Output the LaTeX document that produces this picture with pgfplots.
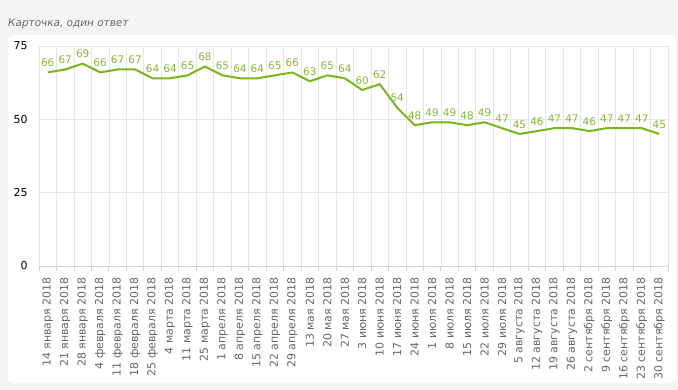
\documentclass[border=0pt]{standalone}
\usepackage{pgfplots}
\pgfplotsset{compat=1.18}
\usepackage{fontspec}
\setmainfont{DejaVu Sans}
\definecolor{bgouter}{HTML}{F4F4F4}
\definecolor{linegreen}{HTML}{7AB51D}
\definecolor{labgreen}{HTML}{86B83A}
\definecolor{gridc}{HTML}{E6E6E6}
\definecolor{axisc}{HTML}{CCD6EB}
\definecolor{ticklab}{HTML}{666666}
\definecolor{titlec}{HTML}{666666}
\pgfplotstableread{
x y
0 66
1 67
2 69
3 66
4 67
5 67
6 64
7 64
8 65
9 68
10 65
11 64
12 64
13 65
14 66
15 63
16 65
17 64
18 60
19 62
20 54
21 48
22 49
23 49
24 48
25 49
26 47
27 45
28 46
29 47
30 47
31 46
32 47
33 47
34 47
35 45
}\datatab
\begin{document}
\begin{tikzpicture}
\useasboundingbox (0,0) rectangle (678bp,-390bp);
\fill[bgouter] (0,0) rectangle (678bp,-390bp);
\fill[white, rounded corners=5bp] (8bp,-35bp) rectangle (676bp,-383bp);
\node[anchor=base west, inner sep=0pt, font=\itshape\fontsize{10.5}{12}\selectfont, text=titlec] at (8bp,-26bp) {Карточка, один ответ};
\begin{axis}[
  at={(39bp,-266bp)}, anchor=south west,
  scale only axis, width=629bp, height=220bp,
  xmin=-0.5, xmax=35.5, ymin=0, ymax=75,
  axis x line*=bottom, axis y line*=left,
  x axis line style={draw=axisc, line width=0.8pt, -},
  y axis line style={draw=none},
  xtick={0,...,35},
  xticklabels={14 января 2018,21 января 2018,28 января 2018,4 февраля 2018,11 февраля 2018,18 февраля 2018,25 февраля 2018,4 марта 2018,11 марта 2018,25 марта 2018,1 апреля 2018,8 апреля 2018,15 апреля 2018,22 апреля 2018,29 апреля 2018,13 мая 2018,20 мая 2018,27 мая 2018,3 июня 2018,10 июня 2018,17 июня 2018,24 июня 2018,1 июля 2018,8 июля 2018,15 июля 2018,22 июля 2018,29 июля 2018,5 августа 2018,12 августа 2018,19 августа 2018,26 августа 2018,2 сентября 2018,9 сентября 2018,16 сентября 2018,23 сентября 2018,30 сентября 2018},
  minor xtick={-0.5,0.5,...,35.5},
  major x tick style={draw=none},
  minor x tick style={draw=axisc, line width=0.8pt},
  minor tick length=5bp,
  tick align=outside,
  xminorgrids=true, xmajorgrids=false,
  ymajorgrids=true,
  grid style={draw=gridc, line width=0.7pt},
  minor grid style={draw=gridc, line width=0.7pt},
  ytick={0,25,50,75},
  ytick style={draw=none},
  /pgf/number format/assume math mode=true,
  xticklabel style={rotate=90, anchor=east, inner sep=0pt, font=\fontsize{11}{12}\selectfont, text=ticklab},
  yticklabel style={inner sep=0pt, font=\fontsize{11}{12}\selectfont, text=black},
  yticklabel shift=7bp,
  xticklabel shift=7bp,
  clip=false,
]
\addplot[linegreen, line width=2pt, line join=round,
  nodes near coords,
  every node near coord/.style={anchor=base, inner sep=0pt, yshift=6bp, font=\fontsize{10.5}{12}\selectfont, text=labgreen},
] table[x=x, y=y] {\datatab};
\end{axis}
\end{tikzpicture}
\end{document}
